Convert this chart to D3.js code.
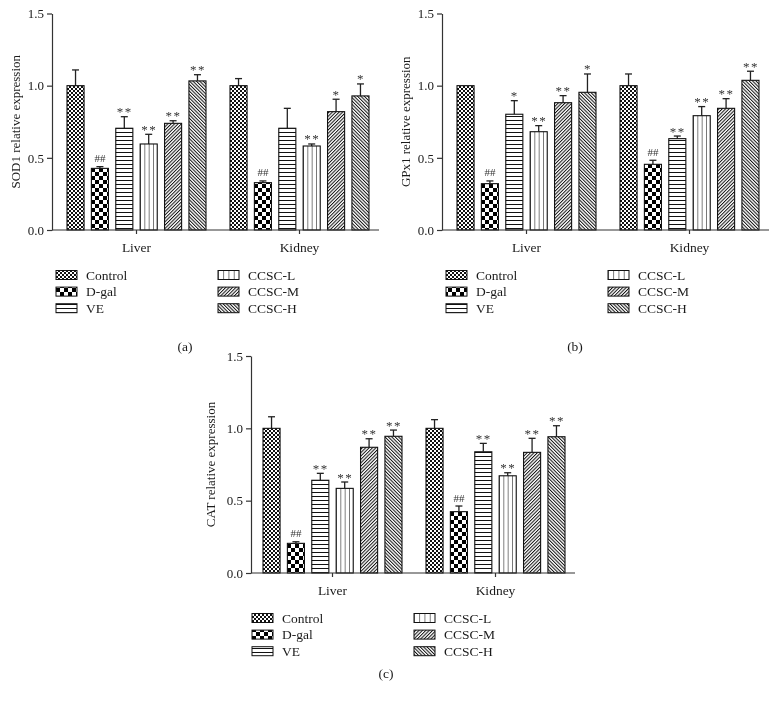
<!DOCTYPE html>
<html>
<head>
<meta charset="utf-8">
<script src="https://cdn.jsdelivr.net/npm/d3@7"></script>
<style>
  html, body { margin: 0; padding: 0; background: #fff; }
  svg { display: block; will-change: transform; }
  text { font-family: "Liberation Serif", "Times New Roman", serif; fill: #1a1a1a; }
</style>
</head>
<body>
<svg id="chart" width="780" height="702"></svg>
<script>
// ---------------- data ----------------
const groups = ["Liver", "Kidney"];
const treatments = ["Control", "D-gal", "VE", "CCSC-L", "CCSC-M", "CCSC-H"];
const yTickValues = [0, 0.5, 1.0, 1.5];

// SOD1 (a)
const sod1Liver      = [1.00, 0.427, 0.705, 0.596, 0.739, 1.033];
const sod1LiverSD    = [0.109, 0.012, 0.080, 0.067, 0.018, 0.043];
const sod1Kidney     = [1.00, 0.328, 0.705, 0.582, 0.820, 0.929];
const sod1KidneySD   = [0.049, 0.012, 0.138, 0.014, 0.086, 0.083];
const sod1LiverSig   = ["", "##", "**", "**", "**", "**"];
const sod1KidneySig  = ["", "##", "", "**", "*", "*"];

// GPx1 (b)
const gpx1Liver      = [1.00, 0.321, 0.802, 0.681, 0.882, 0.954];
const gpx1LiverSD    = [0.000, 0.019, 0.094, 0.042, 0.049, 0.127];
const gpx1Kidney     = [1.00, 0.455, 0.633, 0.792, 0.843, 1.037];
const gpx1KidneySD   = [0.081, 0.028, 0.018, 0.063, 0.067, 0.063];
const gpx1LiverSig   = ["", "##", "*", "**", "**", "*"];
const gpx1KidneySig  = ["", "##", "**", "**", "**", "**"];

// CAT (c)
const catLiver       = [1.00, 0.205, 0.641, 0.585, 0.869, 0.945];
const catLiverSD     = [0.080, 0.011, 0.048, 0.044, 0.059, 0.043];
const catKidney      = [1.00, 0.424, 0.838, 0.672, 0.834, 0.942];
const catKidneySD    = [0.060, 0.039, 0.058, 0.021, 0.097, 0.076];
const catLiverSig    = ["", "##", "**", "**", "**", "**"];
const catKidneySig   = ["", "##", "**", "**", "**", "**"];

// ---------------- patterns ----------------
const svg = d3.select("#chart");
svg.append("rect").attr("width", 780).attr("height", 702).attr("fill", "#fff");
const defs = svg.append("defs");

// Control: fine checkerboard
(function () {
  const p = defs.append("pattern").attr("id", "pat0").attr("patternUnits", "userSpaceOnUse")
    .attr("width", 4).attr("height", 4);
  p.append("rect").attr("width", 4).attr("height", 4).attr("fill", "#fff");
  p.append("rect").attr("width", 2).attr("height", 2).attr("fill", "#111");
  p.append("rect").attr("x", 2).attr("y", 2).attr("width", 2).attr("height", 2).attr("fill", "#111");
})();
// D-gal: coarse checkerboard
(function () {
  const p = defs.append("pattern").attr("id", "pat1").attr("patternUnits", "userSpaceOnUse")
    .attr("width", 8).attr("height", 8);
  p.append("rect").attr("width", 8).attr("height", 8).attr("fill", "#fff");
  p.append("rect").attr("width", 4).attr("height", 4).attr("fill", "#000");
  p.append("rect").attr("x", 4).attr("y", 4).attr("width", 4).attr("height", 4).attr("fill", "#000");
})();
// VE: horizontal lines
(function () {
  const p = defs.append("pattern").attr("id", "pat2").attr("patternUnits", "userSpaceOnUse")
    .attr("width", 8).attr("height", 4);
  p.append("rect").attr("width", 8).attr("height", 4).attr("fill", "#fff");
  p.append("rect").attr("y", 0).attr("width", 8).attr("height", 1).attr("fill", "#111");
})();
// CCSC-L: vertical lines (3 inside each bar)
(function () {
  const p = defs.append("pattern").attr("id", "pat3").attr("patternUnits", "objectBoundingBox")
    .attr("width", 0.25).attr("height", 1);
  p.append("rect").attr("width", 40).attr("height", 400).attr("fill", "#fff");
  p.append("rect").attr("x", -0.6).attr("width", 1.2).attr("height", 400).attr("fill", "#222");
})();
// CCSC-M: "/" diagonals
(function () {
  const p = defs.append("pattern").attr("id", "pat4").attr("patternUnits", "userSpaceOnUse")
    .attr("width", 2.4).attr("height", 10).attr("patternTransform", "rotate(45)");
  p.append("rect").attr("width", 2.4).attr("height", 10).attr("fill", "#fff");
  p.append("rect").attr("width", 1).attr("height", 10).attr("fill", "#111");
})();
// CCSC-H: "\" diagonals
(function () {
  const p = defs.append("pattern").attr("id", "pat5").attr("patternUnits", "userSpaceOnUse")
    .attr("width", 2.4).attr("height", 10).attr("patternTransform", "rotate(-45)");
  p.append("rect").attr("width", 2.4).attr("height", 10).attr("fill", "#fff");
  p.append("rect").attr("width", 1).attr("height", 10).attr("fill", "#111");
})();

const fillFor = i => `url(#pat${i})`;

// ---------------- panel ----------------
function drawPanel(cfg) {
  const g = svg.append("g");
  const y = d3.scaleLinear().domain([0, 1.5]).range([cfg.y0, cfg.yTop]);
  const x0 = d3.scaleBand().domain(groups).range([cfg.r0, cfg.r1]).padding(0);
  const x1 = d3.scaleBand().domain(treatments).range([0, 139]).paddingInner(0.3).paddingOuter(0);

  const series = [
    { group: "Liver", vals: cfg.liver, sd: cfg.liverSD, sig: cfg.liverSig },
    { group: "Kidney", vals: cfg.kidney, sd: cfg.kidneySD, sig: cfg.kidneySig }
  ];

  series.forEach(s => {
    const gx = x0(s.group) + x0.bandwidth() / 2 - 69.5;
    const rows = treatments.map((t, i) => ({ t, i, v: s.vals[i], sd: s.sd[i], sig: s.sig[i] }));
    const gg = g.append("g").attr("transform", `translate(${gx},0)`);

    // error bars
    rows.filter(d => d.sd > 0).forEach(d => {
      const cx = x1(d.t) + x1.bandwidth() / 2;
      gg.append("line").attr("x1", cx).attr("x2", cx)
        .attr("y1", y(d.v)).attr("y2", y(d.v + d.sd))
        .attr("stroke", "#222").attr("stroke-width", 1.3);
      gg.append("line").attr("x1", cx - 3.5).attr("x2", cx + 3.5)
        .attr("y1", y(d.v + d.sd)).attr("y2", y(d.v + d.sd))
        .attr("stroke", "#222").attr("stroke-width", 1.3);
    });

    // bars
    gg.selectAll("rect.bar").data(rows).join("rect")
      .attr("class", "bar")
      .attr("x", d => x1(d.t))
      .attr("y", d => y(d.v))
      .attr("width", x1.bandwidth())
      .attr("height", d => y(0) - y(d.v))
      .attr("fill", d => fillFor(d.i))
      .attr("stroke", "#111").attr("stroke-width", 1.1);

    // significance marks
    rows.filter(d => d.sig).forEach(d => {
      const cx = x1(d.t) + x1.bandwidth() / 2;
      const top = y(d.v + d.sd);
      const isHash = d.sig.startsWith("#");
      gg.append("text")
        .attr("x", cx + (isHash ? 0 : 0.5))
        .attr("y", isHash ? top - 4.5 : top - 0.5)
        .attr("text-anchor", "middle")
        .attr("font-size", isHash ? 11 : 13)
        .attr("letter-spacing", isHash ? 0 : 1.5)
        .style("fill", "#333")
        .text(d.sig);
    });
  });

  // y axis
  const yAxis = d3.axisLeft(y).tickValues(yTickValues).tickFormat(d3.format(".1f"))
    .tickSize(5).tickSizeOuter(0).tickPadding(3);
  const ya = g.append("g").attr("transform", `translate(${cfg.axisX},0)`).call(yAxis);
  ya.select(".domain").attr("stroke", "#333").attr("stroke-width", 1.2);
  ya.selectAll(".tick line").attr("stroke", "#333").attr("stroke-width", 1.2);
  ya.selectAll(".tick text").attr("font-size", 13).attr("fill", "#222")
    .attr("font-family", "Liberation Serif");

  // x axis
  const xAxis = d3.axisBottom(x0).tickSize(4).tickSizeOuter(0).tickPadding(8);
  const xa = g.append("g").attr("transform", `translate(0,${cfg.y0})`).call(xAxis);
  xa.select(".domain").remove();
  xa.append("line").attr("x1", cfg.axisX).attr("x2", cfg.r1 - 2).attr("y1", 0).attr("y2", 0)
    .attr("stroke", "#333").attr("stroke-width", 1.2);
  xa.selectAll(".tick line").attr("stroke", "#333").attr("stroke-width", 1.2);
  xa.selectAll(".tick text").attr("font-size", 13.5).attr("fill", "#222")
    .attr("font-family", "Liberation Serif");

  // y title
  g.append("text")
    .attr("transform", `translate(${cfg.titleX},${(cfg.y0 + cfg.yTop) / 2}) rotate(-90)`)
    .attr("text-anchor", "middle").attr("dy", "0.35em")
    .attr("font-size", 13).text(cfg.title);

  // legend
  const lg = g.append("g");
  treatments.forEach((t, i) => {
    const col = Math.floor(i / 3), row = i % 3;
    const lx = col === 0 ? cfg.legX1 : cfg.legX2;
    const ly = cfg.legY + row * 16.6;
    lg.append("rect").attr("x", lx).attr("y", ly - 4.5).attr("width", 21).attr("height", 9)
      .attr("fill", fillFor(i)).attr("stroke", "#111").attr("stroke-width", 1);
    lg.append("text").attr("x", lx + 30).attr("y", ly).attr("dy", "0.35em")
      .attr("font-size", 13.5).text(t);
  });

  // panel tag
  g.append("text").attr("x", cfg.tagX).attr("y", cfg.tagY).attr("text-anchor", "middle")
    .attr("dy", "0.35em").attr("font-size", 13.5).text(cfg.tag);
}

drawPanel({
  axisX: 52, r0: 55, r1: 381, y0: 230, yTop: 13.5, titleX: 15,
  title: "SOD1 relative expression",
  liver: sod1Liver, liverSD: sod1LiverSD, liverSig: sod1LiverSig,
  kidney: sod1Kidney, kidneySD: sod1KidneySD, kidneySig: sod1KidneySig,
  legX1: 56, legX2: 218, legY: 275, tag: "(a)", tagX: 185, tagY: 346
});
drawPanel({
  axisX: 442, r0: 445, r1: 771, y0: 230, yTop: 13.5, titleX: 405,
  title: "GPx1 relative expression",
  liver: gpx1Liver, liverSD: gpx1LiverSD, liverSig: gpx1LiverSig,
  kidney: gpx1Kidney, kidneySD: gpx1KidneySD, kidneySig: gpx1KidneySig,
  legX1: 446, legX2: 608, legY: 275, tag: "(b)", tagX: 575, tagY: 346
});
drawPanel({
  axisX: 251, r0: 251, r1: 577, y0: 573, yTop: 356, titleX: 210,
  title: "CAT relative expression",
  liver: catLiver, liverSD: catLiverSD, liverSig: catLiverSig,
  kidney: catKidney, kidneySD: catKidneySD, kidneySig: catKidneySig,
  legX1: 252, legX2: 414, legY: 618, tag: "(c)", tagX: 386, tagY: 673
});
</script>
</body>
</html>
